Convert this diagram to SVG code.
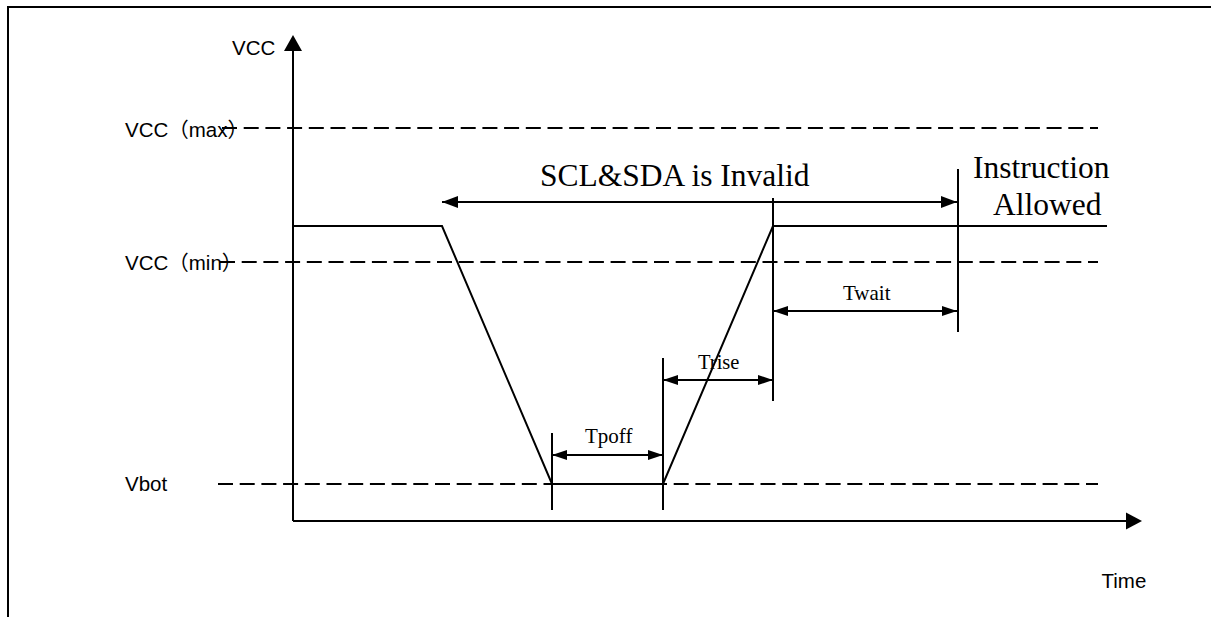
<svg xmlns="http://www.w3.org/2000/svg" width="1211" height="617" viewBox="0 0 1211 617">
<defs>
<style>
.ln{stroke:#000;stroke-width:2;fill:none}
.dash{stroke:#000;stroke-width:2;fill:none;stroke-dasharray:15 6.7}
.sans{font-family:"Liberation Sans","Noto Sans CJK SC",Arial,sans-serif;font-size:20.5px;fill:#000}
.serif{font-family:"Liberation Serif","Times New Roman",serif;fill:#000}
</style>
<marker id="ah" viewBox="0 0 16 12" refX="16" refY="6" markerWidth="16" markerHeight="12" markerUnits="userSpaceOnUse" orient="auto-start-reverse">
<path d="M0,0 L16,6 L0,12 Z" fill="#000"/>
</marker>
<marker id="ahs" viewBox="0 0 15 10" refX="15" refY="5" markerWidth="15" markerHeight="10" markerUnits="userSpaceOnUse" orient="auto-start-reverse">
<path d="M0,0 L15,5 L0,10 Z" fill="#000"/>
</marker>
</defs>
<rect width="1211" height="617" fill="#fff"/>
<g id="frame">
<path class="ln" d="M8,617 L8,7 L1211,7" stroke-width="2.4"/>
</g>
<g id="axes">
<path class="ln" d="M293,521 L293,48" stroke-width="2.3"/>
<path d="M293,35 L284,51 L302,51 Z" fill="#000"/>
<path class="ln" d="M293,521 L1128,521" stroke-width="2.3"/>
<path d="M1142,521 L1126,512.5 L1126,529.5 Z" fill="#000"/>
<text class="sans" x="232" y="55">VCC</text>
<text class="sans" x="1101.5" y="588">Time</text>
</g>
<g id="levels">
<text class="sans" x="125" y="137">VCC（max）</text>
<path class="dash" d="M222,128 L1098,128"/>
<text class="sans" x="125" y="270">VCC（min）</text>
<path class="dash" d="M220,262 L1098,262"/>
<text class="sans" x="125" y="491">Vbot</text>
<path class="dash" d="M218,484 L1098,484"/>
</g>
<g id="signal">
<path class="ln" d="M293,226 L442,226 L552,484 L663,484 L773,226 L1107,226"/>
</g>
<g id="connectors">
<path class="ln" d="M552,433 L552,510"/>
<path class="ln" d="M663,358 L663,510"/>
<path class="ln" d="M773,198 L773,401"/>
<path class="ln" d="M958,169 L958,332"/>
<path class="ln" d="M442,202 L957,202" marker-start="url(#ah)" marker-end="url(#ah)"/>
<path class="ln" d="M773,311 L957,311" marker-start="url(#ahs)" marker-end="url(#ahs)"/>
<path class="ln" d="M663,380 L773,380" marker-start="url(#ahs)" marker-end="url(#ahs)"/>
<path class="ln" d="M552,455 L663,455" marker-start="url(#ahs)" marker-end="url(#ahs)"/>
</g>
<g id="labels">
<text class="serif" x="540" y="186" font-size="31.5">SCL&amp;SDA is Invalid</text>
<text class="serif" x="973" y="178" font-size="31.5">Instruction</text>
<text class="serif" x="993" y="215" font-size="31.5">Allowed</text>
<text class="serif" x="843" y="300" font-size="21">Twait</text>
<text class="serif" x="698" y="369" font-size="20.5">Trise</text>
<text class="serif" x="585" y="443" font-size="21">Tpoff</text>
</g>
</svg>
